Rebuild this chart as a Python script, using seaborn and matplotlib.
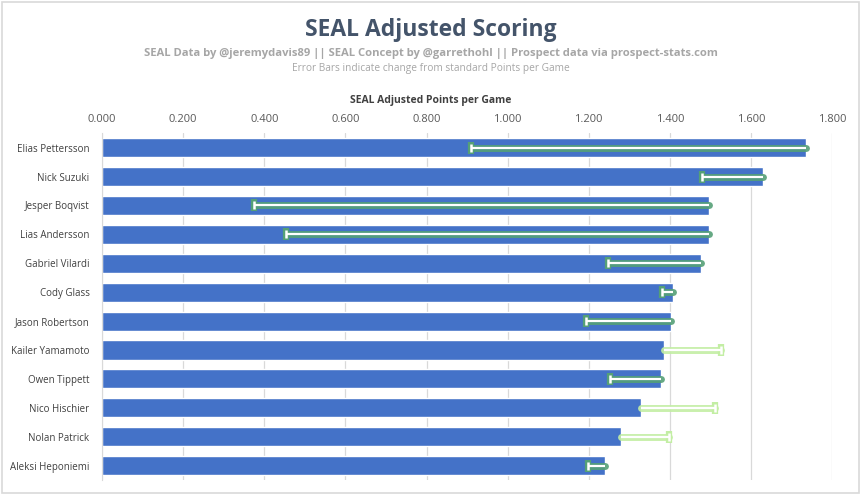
import matplotlib.pyplot as plt
import seaborn as sns
import pandas as pd

# ------------------- data -------------------
players = ['Elias Pettersson', 'Nick Suzuki', 'Jesper Boqvist', 'Lias Andersson',
           'Gabriel Vilardi', 'Cody Glass', 'Jason Robertson', 'Kailer Yamamoto',
           'Owen Tippett', 'Nico Hischier', 'Nolan Patrick', 'Aleksi Heponiemi']
seal_ppg = [1.736, 1.630, 1.496, 1.496, 1.477, 1.407, 1.402, 1.385, 1.378, 1.328, 1.279, 1.240]
std_ppg = [0.909, 1.479, 0.375, 0.454, 1.247, 1.380, 1.193, 1.526, 1.252, 1.511, 1.398, 1.198]
x_ticks = [0.0, 0.2, 0.4, 0.6, 0.8, 1.0, 1.2, 1.4, 1.6, 1.8]

df = pd.DataFrame({'player': players, 'seal': seal_ppg, 'ppg': std_ppg})

sns.set_style('white')
plt.rcParams['font.family'] = ['Open Sans', 'DejaVu Sans']

fig = plt.figure(figsize=(8.61, 4.95), dpi=100)
ax = fig.add_axes([0.1185, 0.030, 0.848, 0.701])

sns.barplot(data=df, x='seal', y='player', orient='h', color='#4472C8',
            saturation=1, width=0.66, ax=ax, zorder=2)

# error bars: change from standard points per game
for i, row in df.iterrows():
    neg = row['ppg'] < row['seal']
    glow = '#55A077' if neg else '#C3EEA4'
    ax.plot([row['seal'], row['ppg']], [i, i], color=glow, lw=5,
            solid_capstyle='round', zorder=3, alpha=0.9)
    ax.plot([row['seal'], row['ppg']], [i, i], color='white', lw=1.6,
            solid_capstyle='butt', zorder=4)
    ax.plot([row['ppg']], [i], marker='|', ms=9, mew=4.5, color=glow, zorder=3)
    ax.plot([row['ppg']], [i], marker='|', ms=6, mew=1.8, color='white', zorder=4)

ax.set_xlim(0, 1.8)
ax.set_ylim(11.5, -0.5)
ax.set_xticks(x_ticks)
ax.set_xticklabels([f'{v:.3f}' for v in x_ticks], fontsize=8, color='#595959')
ax.xaxis.tick_top()
ax.tick_params(axis='x', length=0, pad=6)
ax.tick_params(axis='y', length=0, pad=9, labelsize=7, labelcolor='#404040')
ax.grid(axis='x', color='#D9D9D9', lw=0.9, zorder=0)
ax.set_axisbelow(True)
for s in ['top', 'right', 'bottom']:
    ax.spines[s].set_visible(False)
ax.spines['left'].set_color('#D9D9D9')
ax.set_ylabel('')
ax.set_xlabel('')

fig.text(0.5, 0.940, 'SEAL Adjusted Scoring', ha='center', va='center',
         fontsize=16.5, fontweight='bold', color='#44546A')
fig.text(0.5, 0.892, 'SEAL Data by @jeremydavis89 || SEAL Concept by @garrethohl || Prospect data via prospect-stats.com',
         ha='center', va='center', fontsize=8.1, fontweight='bold', color='#A6A6A6')
fig.text(0.5, 0.862, 'Error Bars indicate change from standard Points per Game',
         ha='center', va='center', fontsize=7.3, color='#A6A6A6')
fig.text(0.5, 0.797, 'SEAL Adjusted Points per Game', ha='center', va='center',
         fontsize=7.5, fontweight='bold', color='#404040')

# chart border
fig.patches.append(plt.Rectangle((0.002, 0.004), 0.996, 0.992, transform=fig.transFigure,
                                 fill=False, edgecolor='#D9D9D9', lw=1.2))

fig.savefig('out.png', dpi=100)
